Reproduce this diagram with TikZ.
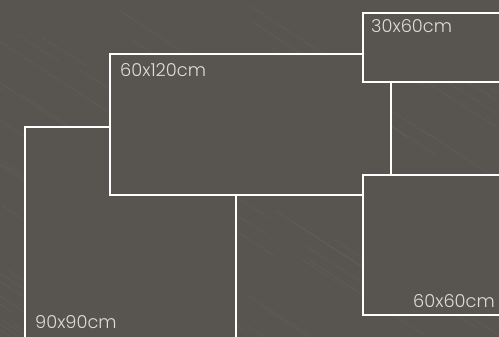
\documentclass[tikz,border=0pt]{standalone}
\usepackage{fontspec}
\setmainfont{Poppins}[UprightFont=* Light]
\definecolor{bg}{RGB}{88,84,80}
\definecolor{labelgrey}{RGB}{222,220,216}
\begin{document}
\begin{tikzpicture}[x=1pt,y=-1pt,
  tile/.style={draw=white,line width=2.5pt,fill=bg},
  lbl/.style={text=labelgrey,font=\fontsize{17.8}{20}\selectfont,inner sep=0pt},
  streak/.style={white,opacity=0.03,line width=1pt}]
\fill[bg] (0,0) rectangle (499,337);
\useasboundingbox (0,0) rectangle (499,337);
\begin{scope}
\clip (0,0) rectangle (499,337);
\pgfmathsetseed{7}
\foreach \i in {1,...,90}{
  \pgfmathsetmacro{\sx}{rnd*700-200}
  \pgfmathsetmacro{\sy}{rnd*337}
  \pgfmathsetmacro{\len}{40+rnd*120}
  \draw[streak] (\sx,\sy) -- ++(\len,0.65*\len);
}
\end{scope}
\path[tile] (25,127) rectangle (236,345);
\path[tile] (110,54) rectangle (391,195);
\path[tile] (363,13) rectangle (510,82);
\path[tile] (363,175) rectangle (510,315);
\node[lbl,anchor=base west] (t3060) at (371,33) {30x60cm};
\node[lbl,anchor=base west] (t60120) at (120,77) {60x120cm};
\node[lbl,anchor=base west] (t9090) at (35,328) {90x90cm};
\node[lbl,anchor=base east] (t6060) at (495,307) {60x60cm};
\end{tikzpicture}
\end{document}
